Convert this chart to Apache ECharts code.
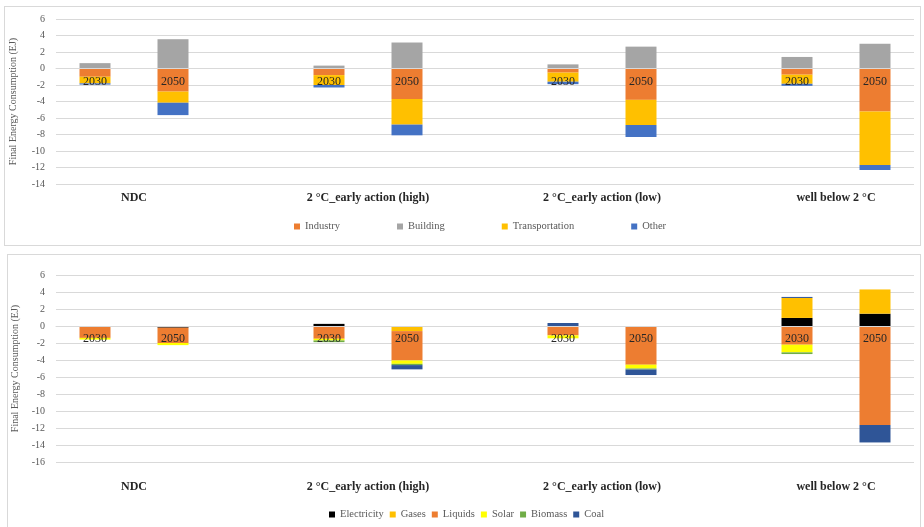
<!DOCTYPE html>
<html>
<head>
<meta charset="utf-8">
<script src="https://cdn.jsdelivr.net/npm/echarts@6/dist/echarts.min.js"></script>
<style>
html,body{margin:0;padding:0;background:#fff;width:924px;height:527px;overflow:hidden;}
.panel{position:absolute;border:1px solid #d9d9d9;box-sizing:border-box;}
#chart{position:absolute;left:0;top:0;width:924px;height:527px;}
</style>
</head>
<body>
<div class="panel" style="left:4px;top:6px;width:917px;height:240px;"></div>
<div class="panel" style="left:7px;top:254px;width:914px;height:290px;"></div>
<div id="chart"></div>
<script>
// ---- data ----
const scenarios = ['NDC', '2 °C_early action (high)', '2 °C_early action (low)', 'well below 2 °C'];
const years = ['2030', '2050'];
// order of bars: NDC2030, NDC2050, high2030, high2050, low2030, low2050, wb2030, wb2050
const industry       = [-1.0, -2.8, -0.8, -3.7, -0.5, -3.8, -0.75, -5.2];
const building       = [0.65, 3.55, 0.35, 3.15, 0.5, 2.65, 1.4, 3.0];
const transportation = [-0.8, -1.35, -1.2, -3.1, -1.1, -3.05, -1.1, -6.5];
const other          = [-0.15, -1.5, -0.3, -1.3, -0.3, -1.45, -0.25, -0.6];

const electricity = [0, -0.2, 0.25, 0, 0, -0.1, 0.95, 1.45];
const gases       = [0, 0, 0, -0.6, 0, 0, 2.35, 2.85];
const liquids     = [-1.4, -1.8, -1.5, -3.45, -1.1, -4.45, -2.2, -11.65];
const solar       = [-0.2, -0.25, -0.2, -0.4, -0.35, -0.45, -0.9, 0];
const biomass     = [0, 0, -0.2, -0.15, 0, -0.12, -0.2, 0];
const coal        = [0, 0, 0, -0.5, 0.35, -0.65, 0.12, -2.05];

const topTicks = {min: -14, max: 6, interval: 2};
const botTicks = {min: -16, max: 6, interval: 2};

// ---- build category slots (blank slot between scenario groups) ----
const cats = [];
scenarios.forEach((s, i) => { if (i > 0) cats.push(''); years.forEach(y => cats.push(y)); });
function spread(arr) {
  const out = [];
  scenarios.forEach((s, i) => {
    if (i > 0) out.push(null);
    out.push(arr[2 * i]); out.push(arr[2 * i + 1]);
  });
  return out;
}
const groupCats = [''];
scenarios.forEach((s, i) => { groupCats.push(s); if (i < scenarios.length - 1) { groupCats.push(''); groupCats.push(''); } });
groupCats.push('');

const FONT = 'Liberation Serif';
const chart = echarts.init(document.getElementById('chart'), null, {renderer: 'canvas'});

const grids = [
  {left: 56, right: 10, top: 19, height: 165},
  {left: 56, right: 10, top: 275, height: 187}
];
// offset (px) that lifts the year axis from the grid bottom to the value 0
function zeroOffset(g, t) {
  return -g.height * (0 - t.min) / (t.max - t.min);
}

function yAx(gi, t, gap) {
  return {
    type: 'value', gridIndex: gi, min: t.min, max: t.max, interval: t.interval,
    name: 'Final Energy Consumption (EJ)', nameLocation: 'middle', nameGap: gap,
    nameTextStyle: {fontFamily: FONT, fontSize: 10, color: '#595959'},
    axisLine: {show: false}, axisTick: {show: false},
    axisLabel: {fontFamily: FONT, fontSize: 10, color: '#595959', margin: 11},
    splitLine: {lineStyle: {color: '#d9d9d9', width: 1}}
  };
}
function yearAx(gi, t) {
  return {
    type: 'category', gridIndex: gi, data: cats, position: 'bottom', z: 10,
    offset: zeroOffset(grids[gi], t),
    axisLine: {show: true, onZero: false, lineStyle: {color: '#d9d9d9'}},
    axisTick: {show: false},
    axisLabel: {interval: 0, fontFamily: FONT, fontSize: 12, color: '#262626', margin: 7}
  };
}
function groupAx(gi, margin) {
  return {
    type: 'category', gridIndex: gi, data: groupCats, position: 'bottom', boundaryGap: false,
    axisLine: {show: false, onZero: false}, axisTick: {show: false}, splitLine: {show: false},
    axisLabel: {interval: 0, fontFamily: FONT, fontSize: 12, fontWeight: 'bold', color: '#262626', margin: margin}
  };
}
function bar(name, arr, color, stack, xi, yi) {
  return {
    name, type: 'bar', stack, xAxisIndex: xi, yAxisIndex: yi, barWidth: 31,
    itemStyle: {color}, data: spread(arr), emphasis: {disabled: true}
  };
}

chart.setOption({
  animation: false,
  grid: grids,
  xAxis: [yearAx(0, topTicks), groupAx(0, 8), yearAx(1, botTicks), groupAx(1, 19)],
  yAxis: [yAx(0, topTicks, 38), yAx(1, botTicks, 35)],
  legend: [
    {data: ['Industry', 'Building', 'Transportation', 'Other'], left: 289, top: 216,
     itemWidth: 6, itemHeight: 6, itemGap: 57, icon: 'rect',
     textStyle: {fontFamily: FONT, fontSize: 10.5, color: '#595959'}},
    {data: ['Electricity', 'Gases', 'Liquids', 'Solar', 'Biomass', 'Coal'], left: 324, top: 504,
     itemWidth: 6, itemHeight: 6, itemGap: 6, icon: 'rect',
     textStyle: {fontFamily: FONT, fontSize: 10.5, color: '#595959'}}
  ],
  series: [
    bar('Industry', industry, '#ED7D31', 'top', 0, 0),
    bar('Building', building, '#A5A5A5', 'top', 0, 0),
    bar('Transportation', transportation, '#FFC000', 'top', 0, 0),
    bar('Other', other, '#4472C4', 'top', 0, 0),
    bar('Electricity', electricity, '#000000', 'bot', 2, 1),
    bar('Gases', gases, '#FFC000', 'bot', 2, 1),
    bar('Liquids', liquids, '#ED7D31', 'bot', 2, 1),
    bar('Solar', solar, '#FFFF00', 'bot', 2, 1),
    bar('Biomass', biomass, '#70AD47', 'bot', 2, 1),
    bar('Coal', coal, '#2F5597', 'bot', 2, 1)
  ]
});
</script>
</body>
</html>
